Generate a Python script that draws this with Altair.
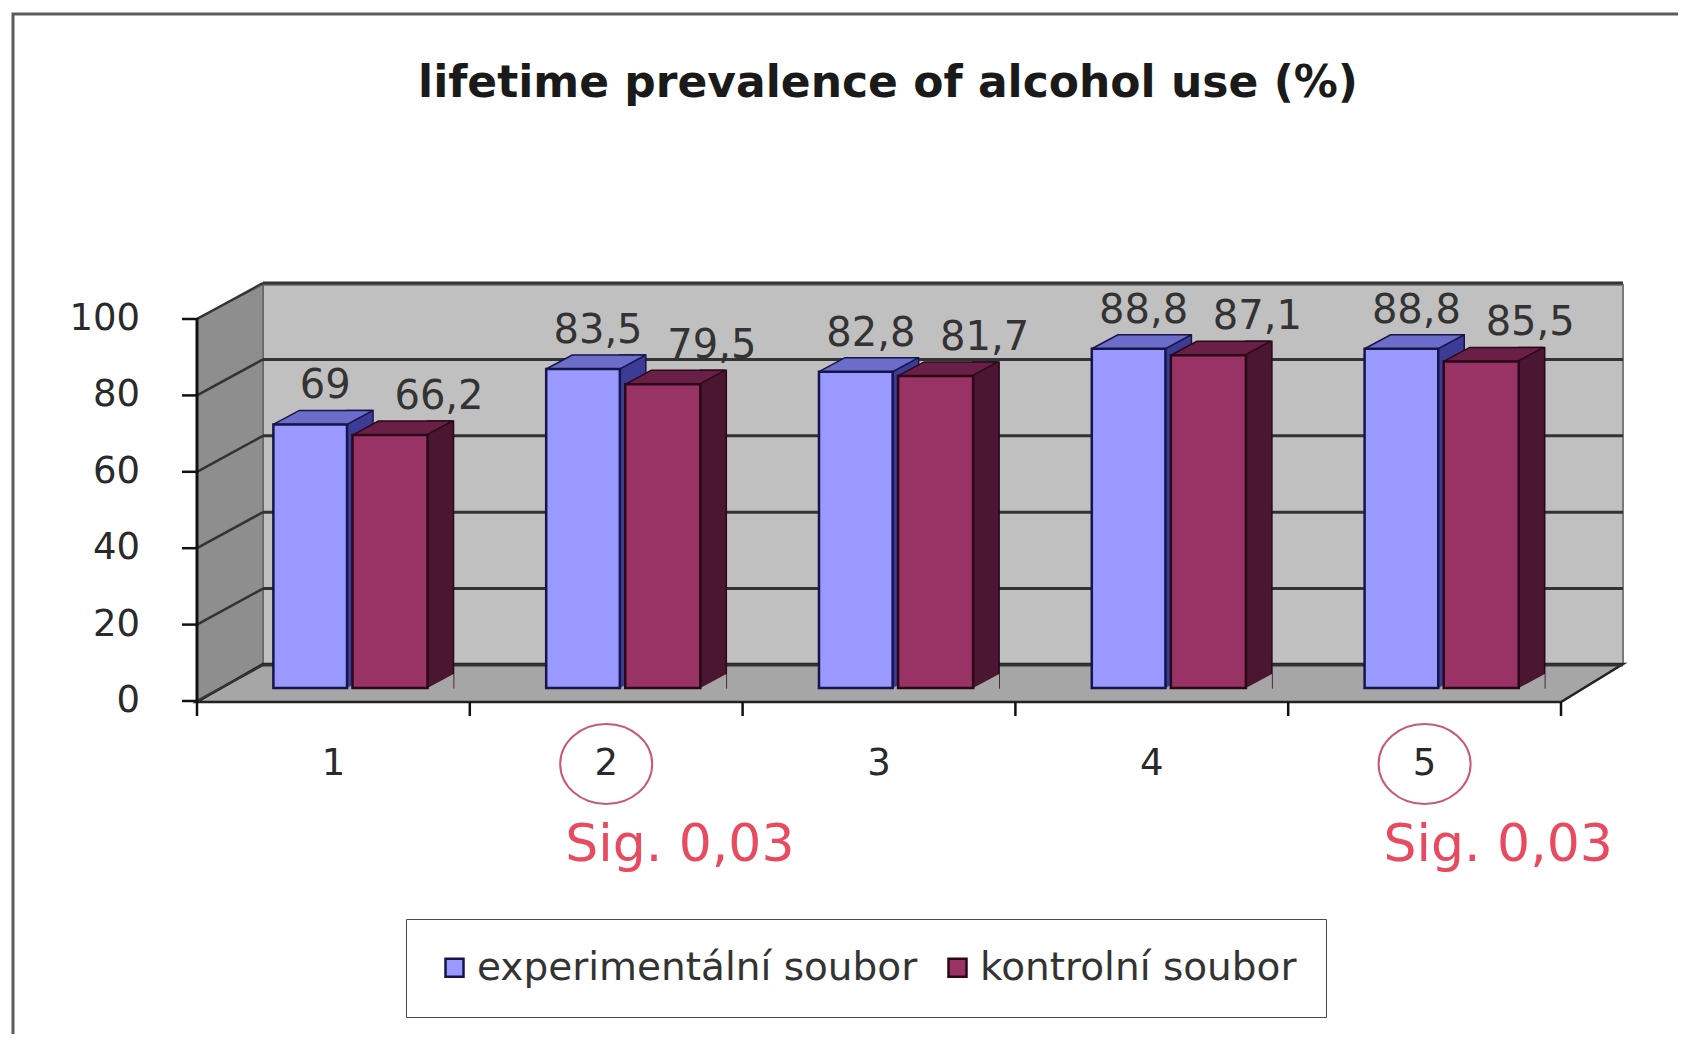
import altair as alt
import pandas as pd

# ---------------- data ----------------
categories = [1, 2, 3, 4, 5]
series_names = ["experimentální soubor", "kontrolní soubor"]
experimental = [69, 83.5, 82.8, 88.8, 88.8]
control = [66.2, 79.5, 81.7, 87.1, 85.5]
y_ticks = [0, 20, 40, 60, 80, 100]
sig_groups = [2, 5]
sig_labels = ["Sig. 0,03", "Sig. 0,03"]
title_text = "lifetime prevalence of alcohol use (%)"

rows = []
for g, e, c in zip(categories, experimental, control):
    rows.append({"group": g, "s": 0, "series": series_names[0], "value": e})
    rows.append({"group": g, "s": 1, "series": series_names[1], "value": c})
bars = pd.DataFrame(rows)
bounds = [c - 0.5 for c in categories] + [categories[-1] + 0.5]
grid_df = pd.DataFrame({"v": y_ticks})
cat_df = pd.DataFrame({"c": categories})
one = pd.DataFrame({"k": [0]})
sig_df = pd.DataFrame({"group": sig_groups, "text": sig_labels})

# ---------------- style ----------------
W, H = 1364, 382
FONT = "DejaVu Sans"
FRONT = ["#9999ff", "#993366"]
TOP = ["#6c6cc9", "#6a2046"]
SIDE = ["#3c3c96", "#4a1631"]
DARK = ["#15154a", "#2a0818"]
WALL = "#c0c0c0"
LWALL = "#8e8e8e"
FLOOR = "#a6a6a6"
LINE = "#333333"
TEXT = "#2a2a2a"
DEPTH_X, DEPTH_Y = 26, 14
BAR_PX = 73.7

xs = alt.Scale(domain=[categories[0] - 0.5, categories[-1] + 0.5], nice=False, zero=False)
ys = alt.Scale(domain=[0, 100], nice=False)

TOP_PATH = f"M0,0 L{BAR_PX},0 L{BAR_PX + DEPTH_X},-{DEPTH_Y} L{DEPTH_X},-{DEPTH_Y} Z"
TRI_PATH = f"M0,0 L{DEPTH_X},-{DEPTH_Y} L{DEPTH_X},1 L0,1 Z"
LEFT_PATH = "M0,12 L66,-21 L66,358 L0,396 Z"
FLOOR_PATH = "M0,396 L66,358 L1426,358 L1364,396 Z"
ELLIPSE = "M-46,0 A46,40 0 1,0 46,0 A46,40 0 1,0 -46,0 Z"

base = alt.Chart(bars).transform_calculate(
    left="datum.group + (datum.s == 0 ? -0.22 : 0.07)",
).transform_calculate(
    right="datum.group + (datum.s == 0 ? 0.05 : 0.345)",
).transform_calculate(
    mid="(datum.left + datum.right) / 2",
).transform_calculate(
    label="replace(toString(datum.value), '.', ',')",
)

layers = []

# outer frame
layers.append(
    alt.Chart(one).mark_rect(fillOpacity=0, stroke="#5c5c5c", strokeWidth=3).encode(
        x=alt.value(-184), x2=alt.value(1600), y=alt.value(-292), y2=alt.value(900)
    )
)
# back wall
layers.append(
    alt.Chart(one).mark_rect(fill=WALL, stroke="#7a7a7a", strokeWidth=2).encode(
        x=alt.value(66), x2=alt.value(1426), y=alt.value(-21), y2=alt.value(358)
    )
)
# left wall
layers.append(
    alt.Chart(one).mark_point(shape=LEFT_PATH, size=4, filled=True, fill=LWALL,
                              stroke="#555555", strokeWidth=1, opacity=1).encode(
        x=alt.value(0), y=alt.value(0)
    )
)
# floor
layers.append(
    alt.Chart(one).mark_point(shape=FLOOR_PATH, size=4, filled=True, fill=FLOOR,
                              stroke="#222222", strokeWidth=2.5, opacity=1).encode(
        x=alt.value(0), y=alt.value(0)
    )
)
# back-wall gridlines
layers.append(
    alt.Chart(grid_df).mark_rule(color=LINE, strokeWidth=3, yOffset=-23).encode(
        x=alt.value(66), x2=alt.value(1426),
        y=alt.Y("v:Q", scale=ys, axis=None),
    )
)
# left-wall diagonals
layers.append(
    alt.Chart(grid_df).mark_rule(color=LINE, strokeWidth=2.5, yOffset=13, y2Offset=-23).encode(
        x=alt.value(0), x2=alt.value(66),
        y=alt.Y("v:Q", scale=ys, axis=None), y2="v:Q",
    )
)
# front vertical axis line
layers.append(
    alt.Chart(one).mark_rule(color="#111111", strokeWidth=3).encode(
        x=alt.value(0), y=alt.value(12), y2=alt.value(396)
    )
)
# y-axis ticks and labels (front face of the 3-D box)
layers.append(
    alt.Chart(grid_df).mark_rule(color="#111111", strokeWidth=2.5, yOffset=13).encode(
        x=alt.value(-15), x2=alt.value(0), y=alt.Y("v:Q", scale=ys, axis=None)
    )
)
layers.append(
    alt.Chart(grid_df).mark_text(align="right", baseline="middle", yOffset=13, fontSize=37,
                                 font=FONT, color=TEXT).encode(
        x=alt.value(-57), y=alt.Y("v:Q", scale=ys, axis=None), text=alt.Text("v:Q", format="d")
    )
)
# category boundary ticks and category labels
layers.append(
    alt.Chart(pd.DataFrame({"b": bounds})).mark_rule(color="#111111", strokeWidth=2.5).encode(
        x=alt.X("b:Q", scale=xs, axis=None), y=alt.value(396), y2=alt.value(410)
    )
)
layers.append(
    alt.Chart(cat_df).mark_text(baseline="middle", fontSize=37, font=FONT, color=TEXT).encode(
        x=alt.X("c:Q", scale=xs, axis=None), y=alt.value(458), text=alt.Text("c:Q", format="d")
    )
)

# bar side faces
for i in range(2):
    layers.append(
        base.transform_filter(f"datum.s == {i}").mark_rect(
            fill=SIDE[i], stroke=DARK[i], strokeWidth=1.5, x2Offset=DEPTH_X, yOffset=-DEPTH_Y
        ).encode(
            x=alt.X("right:Q", scale=xs, axis=None), x2="right:Q",
            y=alt.Y("value:Q", scale=ys, axis=None), y2=alt.value(H),
        )
    )
# floor-coloured triangle under the side faces
layers.append(
    base.mark_point(shape=TRI_PATH, size=4, filled=True, fill=FLOOR, strokeWidth=0, opacity=1).encode(
        x=alt.X("right:Q", scale=xs, axis=None), y=alt.value(H)
    )
)
# bar top faces
for i in range(2):
    layers.append(
        base.transform_filter(f"datum.s == {i}").mark_point(
            shape=TOP_PATH, size=4, filled=True, fill=TOP[i], stroke=DARK[i], strokeWidth=1.5, opacity=1
        ).encode(
            x=alt.X("left:Q", scale=xs, axis=None),
            y=alt.Y("value:Q", scale=ys, axis=None),
        )
    )
# bar front faces (with legend)
layers.append(
    base.mark_rect(strokeWidth=2.5).encode(
        x=alt.X("left:Q", scale=xs, axis=None),
        x2="right:Q",
        y=alt.Y("value:Q", scale=ys, axis=None),
        y2=alt.value(H),
        color=alt.Color(
            "series:N",
            scale=alt.Scale(domain=series_names, range=FRONT),
            legend=alt.Legend(
                title=None, orient="none", legendX=209, legendY=613, direction="horizontal",
                symbolType="square", symbolSize=324, symbolStrokeColor="#161630",
                symbolStrokeWidth=2.5, symbolOpacity=1, labelLimit=1000,
                labelFont=FONT, labelFontSize=39, labelColor="#333333", labelOffset=3,
                columnPadding=20, padding=29, strokeColor="#4a4a4a", fillColor="#ffffff",
            ),
        ),
        stroke=alt.Stroke("series:N", scale=alt.Scale(domain=series_names, range=DARK), legend=None),
    )
)
# value labels
LABEL_DX = [15, 49]
for i in range(2):
    layers.append(
        base.transform_filter(f"datum.s == {i}").mark_text(
            dx=LABEL_DX[i], dy=-38, fontSize=40, font=FONT, color="#333333", baseline="middle"
        ).encode(
            x=alt.X("mid:Q", scale=xs, axis=None),
            y=alt.Y("value:Q", scale=ys, axis=None),
            text="label:N",
        )
    )
# significance circles and notes
layers.append(
    alt.Chart(sig_df).mark_point(shape=ELLIPSE, size=4, filled=False, stroke="#c85a70",
                                 strokeWidth=2, opacity=1).encode(
        x=alt.X("group:Q", scale=xs, axis=None), y=alt.value(458)
    )
)
layers.append(
    alt.Chart(sig_df).mark_text(align="left", dx=-41, fontSize=52, font=FONT,
                                color="#e84a5f", baseline="middle").encode(
        x=alt.X("group:Q", scale=xs, axis=None), y=alt.value(539), text="text:N"
    )
)
# title
layers.append(
    alt.Chart(one).mark_text(fontSize=44, fontWeight="bold", font=FONT, color="#1a1a1a",
                             baseline="middle").encode(
        x=alt.value(691), y=alt.value(-222), text=alt.value(title_text)
    )
)

chart = alt.layer(*layers).properties(
    width=W, height=H,
    padding={"left": 189, "top": 298, "right": 117, "bottom": 346},
    autosize=alt.AutoSizeParams(type="none"),
    background="#ffffff",
).configure_view(strokeWidth=0)

chart.save("out.html", embed_options={"renderer": "svg", "actions": False})
